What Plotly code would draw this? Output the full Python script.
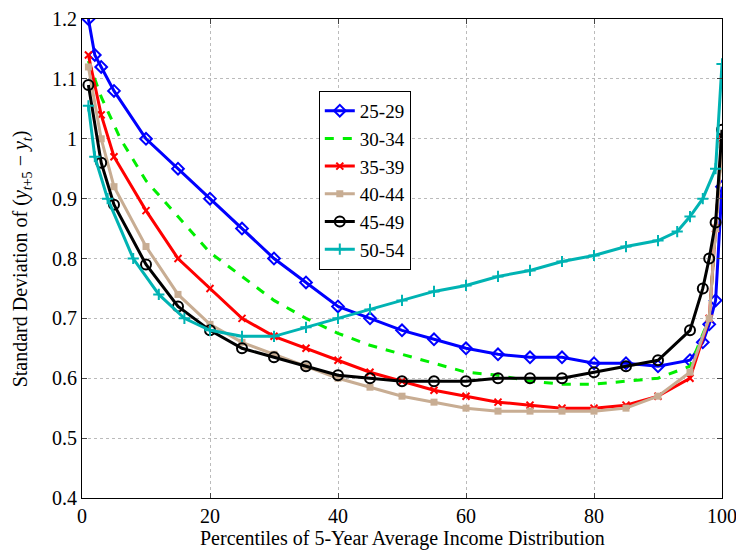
import plotly.graph_objects as go

x_a = [1,2,3,5,10,15,20,25,30,35,40,45,50,55,60,65,70,75,80,85,90,95,97,98,99,100]
s2529 = [1.2,1.14,1.12,1.08,1.0,0.95,0.9,0.85,0.8,0.76,0.72,0.7,0.68,0.665,0.65,0.64,0.635,0.635,0.625,0.625,0.62,0.63,0.66,0.69,0.73,0.92]
x_b = [1,3,6,10,15,20,25,30,35,40,45,50,55,60,65,70,75,80,85,90,95,98,99,100]
s3034 = [1.13,1.07,1.0,0.93,0.87,0.81,0.77,0.73,0.70,0.675,0.655,0.64,0.625,0.61,0.605,0.595,0.59,0.59,0.595,0.6,0.62,0.7,0.85,1.0]
x_c = [1,3,5,10,15,20,25,30,35,40,45,50,55,60,65,70,75,80,85,90,95,98,99,100]
s3539 = [1.14,1.04,0.97,0.88,0.8,0.75,0.7,0.67,0.65,0.63,0.61,0.595,0.58,0.57,0.56,0.555,0.55,0.55,0.555,0.57,0.6,0.7,0.85,1.0]
s4044 = [1.12,1.0,0.92,0.82,0.74,0.69,0.66,0.64,0.62,0.6,0.585,0.57,0.56,0.55,0.545,0.545,0.545,0.545,0.55,0.57,0.61,0.7,0.85,0.99]
x_e = [1,3,5,10,15,20,25,30,35,40,45,50,55,60,65,70,75,80,85,90,95,97,98,99,100]
s4549 = [1.09,0.96,0.89,0.79,0.72,0.68,0.65,0.635,0.62,0.605,0.6,0.595,0.595,0.595,0.6,0.6,0.6,0.61,0.62,0.63,0.68,0.75,0.8,0.86,1.015]
x_f = [1,2,4,8,12,16,20,25,30,35,40,45,50,55,60,65,70,75,80,85,90,93,95,97,99,100]
s5054 = [1.055,0.97,0.9,0.8,0.74,0.7,0.68,0.67,0.67,0.685,0.7,0.715,0.73,0.745,0.755,0.77,0.78,0.795,0.805,0.82,0.83,0.845,0.87,0.9,0.95,1.125]
y_ticks = [0.4, 0.5, 0.6, 0.7, 0.8, 0.9, 1.0, 1.1, 1.2]
y_tick_labels = ["0.4", "0.5", "0.6", "0.7", "0.8", "0.9", "1", "1.1", "1.2"]

series = [
    ("25-29", x_a, s2529, "#0000ff", "solid", dict(symbol="diamond-open", size=9, line=dict(width=2))),
    ("30-34", x_b, s3034, "#00ee00", "dash", dict(size=1)),
    ("35-39", x_c, s3539, "#ff0000", "solid", dict(symbol="x-thin", size=7, line=dict(width=2, color="#ff0000"))),
    ("40-44", x_c, s4044, "#c8ad93", "solid", dict(symbol="square", size=7)),
    ("45-49", x_e, s4549, "#000000", "solid", dict(symbol="circle-open", size=10, line=dict(width=2))),
    ("50-54", x_f, s5054, "#00b3b3", "solid", dict(symbol="cross-thin", size=8, line=dict(width=2, color="#00b3b3"))),
]

fig = go.Figure()
for name, xs, ys, c, dash, mk in series:
    mode = "lines" if name == "30-34" else "lines+markers"
    fig.add_trace(go.Scatter(x=xs, y=ys, name=name, mode=mode,
                             line=dict(color=c, width=3, dash=dash),
                             marker=dict(color=c, **mk)))

ax = dict(showgrid=True, gridcolor="#bbbbbb", griddash="dot", gridwidth=1,
          showline=True, linecolor="black", mirror="ticks", ticks="inside",
          ticklen=5, zeroline=False, tickfont=dict(size=20, family="Liberation Serif"),
          automargin=False)
fig.update_xaxes(range=[0, 100], dtick=20, **ax)
fig.update_yaxes(range=[0.3999, 1.2001], tickvals=y_ticks, ticktext=y_tick_labels, **ax)
fig.add_annotation(text="Percentiles of 5-Year Average Income Distribution", xref="paper", yref="paper",
                   x=0.5, y=-0.085, xanchor="center", yanchor="middle", showarrow=False,
                   font=dict(size=20, family="Liberation Serif"))
fig.add_annotation(text="Standard Deviation of (<i>y</i><sub><i>t</i>+5</sub> − <i>y</i><sub><i>t</i></sub>)",
                   xref="paper", yref="paper", x=-0.094, y=0.5, textangle=-90,
                   xanchor="center", yanchor="middle", showarrow=False,
                   font=dict(size=20, family="Liberation Serif"))
fig.update_layout(width=744, height=556, margin=dict(l=74, r=30, t=11, b=66),
                  plot_bgcolor="white", paper_bgcolor="white",
                  font=dict(family="Liberation Serif", color="black", size=18),
                  legend=dict(x=0.37, y=0.85, xanchor="left", yanchor="top",
                              bordercolor="black", borderwidth=1, bgcolor="white",
                              font=dict(size=19, family="Liberation Serif"), tracegroupgap=0))
fig.write_html("out.html")
